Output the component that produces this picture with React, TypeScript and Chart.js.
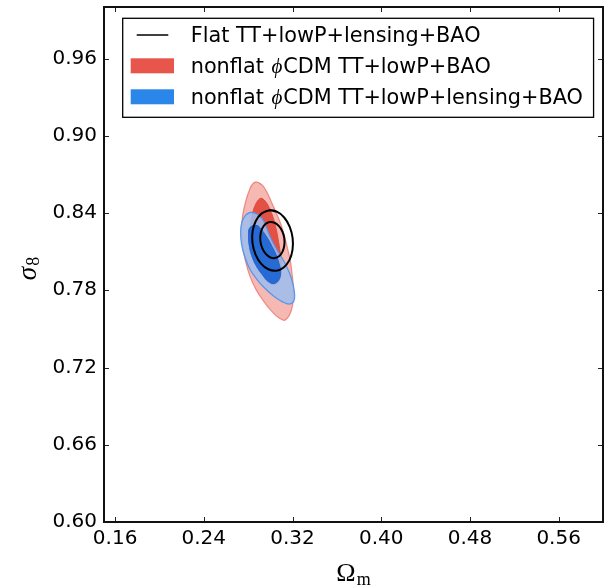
import React, { useEffect, useRef } from "react";
import { Chart, registerables } from "chart.js";

Chart.register(...registerables);

// ---- axes ----
const X_MIN = 0.15;
const X_MAX = 0.6;
const Y_MIN = 0.6;
const Y_MAX = 1.0;
const X_TICKS = [0.16, 0.24, 0.32, 0.4, 0.48, 0.56];
const Y_TICKS = [0.6, 0.66, 0.72, 0.78, 0.84, 0.9, 0.96];

// ---- legend ----
const LEGEND_LABELS = [
  "Flat TT+lowP+lensing+BAO",
  "nonflat \u03D5CDM TT+lowP+BAO",
  "nonflat \u03D5CDM TT+lowP+lensing+BAO",
];

// ---- contour vertices [Omega_m, sigma_8] ----
const RED_OUTER: [number, number][] = [
  [0.2876, 0.8641], [0.2926, 0.8618], [0.2971, 0.8559], [0.3016, 0.8474], [0.3056, 0.8396],
  [0.3093, 0.8318], [0.3124, 0.8233], [0.3151, 0.814], [0.3178, 0.8039], [0.3196, 0.793],
  [0.3208, 0.7813], [0.3205, 0.7712], [0.3183, 0.7627], [0.3133, 0.7568], [0.3079, 0.7584],
  [0.3007, 0.7642], [0.2935, 0.772], [0.2871, 0.7805], [0.2817, 0.7906], [0.2777, 0.8023],
  [0.275, 0.814], [0.2741, 0.8264], [0.275, 0.838], [0.2777, 0.8489], [0.2813, 0.8583],
  [0.2844, 0.8629],
];
const RED_INNER: [number, number][] = [
  [0.2912, 0.8513], [0.2953, 0.8493], [0.2989, 0.8443], [0.3025, 0.8365], [0.3052, 0.8279],
  [0.3074, 0.8178], [0.3093, 0.807], [0.3102, 0.7976], [0.3088, 0.7891], [0.3043, 0.7844],
  [0.298, 0.7868], [0.2917, 0.7945], [0.2867, 0.8046], [0.2835, 0.8155], [0.2822, 0.8264],
  [0.2835, 0.838], [0.2867, 0.8466],
];
const BLUE_OUTER: [number, number][] = [
  [0.2817, 0.8404], [0.2871, 0.8396], [0.2926, 0.8357], [0.2966, 0.8287], [0.2998, 0.8217],
  [0.3043, 0.814], [0.3097, 0.8062], [0.3142, 0.7992], [0.3178, 0.7922], [0.3205, 0.7844],
  [0.3219, 0.7767], [0.321, 0.7712], [0.3169, 0.7693], [0.3106, 0.7712], [0.3034, 0.7751],
  [0.2953, 0.7813], [0.288, 0.7883], [0.2817, 0.7961], [0.2772, 0.8054], [0.2741, 0.8155],
  [0.2732, 0.8256], [0.2745, 0.8334], [0.2777, 0.8384],
];
const BLUE_INNER: [number, number][] = [
  [0.2817, 0.8287], [0.288, 0.8303], [0.2926, 0.8264], [0.2971, 0.821], [0.3016, 0.814],
  [0.3052, 0.8077], [0.3079, 0.8007], [0.3093, 0.7945], [0.3079, 0.7883], [0.3034, 0.7852],
  [0.298, 0.7868], [0.2926, 0.7922], [0.2871, 0.7992], [0.2831, 0.807], [0.2808, 0.8155],
  [0.2804, 0.8233],
];
const FLAT_OUTER: [number, number][] = [
  [0.2987, 0.842], [0.3059, 0.841], [0.3125, 0.8365], [0.3175, 0.8293], [0.3201, 0.8205],
  [0.32, 0.8114], [0.3172, 0.8034], [0.312, 0.7977], [0.3054, 0.7952], [0.2982, 0.7963],
  [0.2916, 0.8007], [0.2866, 0.8079], [0.2839, 0.8167], [0.284, 0.8258], [0.2869, 0.8338],
  [0.292, 0.8395],
];
const FLAT_INNER: [number, number][] = [
  [0.2996, 0.833], [0.3038, 0.8324], [0.3078, 0.8298], [0.3109, 0.8256], [0.3126, 0.8203],
  [0.3126, 0.8148], [0.311, 0.81], [0.3081, 0.8066], [0.3041, 0.805], [0.2999, 0.8056],
  [0.2959, 0.8082], [0.2928, 0.8125], [0.2911, 0.8177], [0.2911, 0.8232], [0.2927, 0.828],
  [0.2956, 0.8315],
];

const RED = "rgb(232,85,75)";
const BLUE = "rgb(42,135,233)";
const SANS = '"DejaVu Sans", sans-serif';
const SERIF = '"Liberation Serif", "DejaVu Serif", serif';

function closedLoop(pts: [number, number][]) {
  const n = pts.length;
  const ring = [pts[n - 1], ...pts, pts[0], pts[1]];
  return ring.map(([x, y]) => ({ x, y }));
}

function contour(pts: [number, number][], fillColor: string | false, edge: string, width: number, order: number) {
  return {
    data: closedLoop(pts),
    borderColor: edge,
    borderWidth: width,
    backgroundColor: fillColor || "transparent",
    fill: fillColor ? "shape" : false,
    tension: 0.4,
    pointRadius: 0,
    pointHoverRadius: 0,
    order,
  };
}

const decorPlugin = {
  id: "decor",
  afterDraw(chart: any) {
    const ctx = chart.ctx as CanvasRenderingContext2D;
    const ca = chart.chartArea;
    const xs = chart.scales.x;
    const ys = chart.scales.y;
    ctx.save();

    // inward ticks on all four sides
    ctx.strokeStyle = "#222";
    ctx.lineWidth = 1;
    const TL = 5;
    ctx.beginPath();
    X_TICKS.forEach((v) => {
      const px = Math.round(xs.getPixelForValue(v)) + 0.5;
      ctx.moveTo(px, ca.bottom);
      ctx.lineTo(px, ca.bottom - TL);
      ctx.moveTo(px, ca.top);
      ctx.lineTo(px, ca.top + TL);
    });
    Y_TICKS.forEach((v) => {
      const py = Math.round(ys.getPixelForValue(v)) + 0.5;
      ctx.moveTo(ca.left, py);
      ctx.lineTo(ca.left + TL, py);
      ctx.moveTo(ca.right, py);
      ctx.lineTo(ca.right - TL, py);
    });
    ctx.stroke();

    // frame
    ctx.strokeStyle = "#111";
    ctx.lineWidth = 2;
    ctx.strokeRect(ca.left, ca.top, ca.right - ca.left, ca.bottom - ca.top);

    // legend
    const bx = ca.left + 18.7;
    const by = ca.top + 11.3;
    const textX = bx + 68;
    const fontSans = "20.8px " + SANS;
    const fontPhi = "italic 21px " + SERIF;
    const measure = (label: string) => {
      const parts = label.split("\u03D5");
      let w = 0;
      parts.forEach((p, i) => {
        if (i > 0) {
          ctx.font = fontPhi;
          w += ctx.measureText("\u03D5").width + 2;
        }
        ctx.font = fontSans;
        w += ctx.measureText(p).width;
      });
      return w;
    };
    const drawLabel = (label: string, x: number, y: number) => {
      const parts = label.split("\u03D5");
      let cx = x;
      parts.forEach((p, i) => {
        if (i > 0) {
          ctx.font = fontPhi;
          ctx.fillText("\u03D5", cx + 1, y);
          cx += ctx.measureText("\u03D5").width + 2;
        }
        ctx.font = fontSans;
        ctx.fillText(p, cx, y);
        cx += ctx.measureText(p).width;
      });
    };
    const maxW = Math.max(...LEGEND_LABELS.map(measure));
    const bw = textX - bx + maxW + 10.6;
    const bh = 99;
    ctx.fillStyle = "#fff";
    ctx.fillRect(bx, by, bw, bh);
    ctx.strokeStyle = "#000";
    ctx.lineWidth = 1.3;
    ctx.strokeRect(bx, by, bw, bh);

    // handles
    ctx.strokeStyle = "#000";
    ctx.lineWidth = 1.6;
    ctx.beginPath();
    ctx.moveTo(bx + 14, by + 16.7);
    ctx.lineTo(bx + 45.6, by + 16.7);
    ctx.stroke();
    ctx.fillStyle = RED;
    ctx.fillRect(bx + 8, by + 40, 43.3, 15);
    ctx.fillStyle = BLUE;
    ctx.fillRect(bx + 8, by + 71, 43.3, 15);

    ctx.fillStyle = "#000";
    ctx.textBaseline = "alphabetic";
    ctx.textAlign = "left";
    const baselines = [24, 54.9, 85.7];
    LEGEND_LABELS.forEach((lab, i) => drawLabel(lab, textX, by + baselines[i]));

    // x axis title: Omega_m
    ctx.fillStyle = "#000";
    const omFont = "26px " + SERIF;
    const subFont = "18px " + SERIF;
    ctx.font = omFont;
    const wO = ctx.measureText("\u03A9").width;
    ctx.font = subFont;
    const wm = ctx.measureText("m").width;
    const cxm = (ca.left + ca.right) / 2;
    const sx = cxm - (wO + wm + 1) / 2;
    ctx.font = omFont;
    ctx.fillText("\u03A9", sx, 581);
    ctx.font = subFont;
    ctx.fillText("m", sx + wO + 1, 585);

    // y axis title: sigma_8
    ctx.save();
    ctx.translate(36, 268.5);
    ctx.rotate(-Math.PI / 2);
    const sgFont = "italic 27px " + SERIF;
    const eightFont = "18px " + SERIF;
    ctx.font = sgFont;
    const ws = ctx.measureText("\u03C3").width;
    ctx.font = eightFont;
    const w8 = ctx.measureText("8").width;
    const s0 = -(ws + w8 + 1) / 2;
    ctx.font = sgFont;
    ctx.fillText("\u03C3", s0, 0);
    ctx.font = eightFont;
    ctx.fillText("8", s0 + ws + 1, 3);
    ctx.restore();

    ctx.restore();
  },
};

export default function App() {
  const ref = useRef<HTMLCanvasElement | null>(null);

  useEffect(() => {
    if (!ref.current) return;
    const chart = new Chart(ref.current, {
      type: "line",
      data: {
        datasets: [
          contour(RED_OUTER, "rgba(232,85,75,0.42)", "rgba(232,85,75,0.6)", 1.2, 6),
          contour(RED_INNER, "rgba(226,76,62,0.95)", "rgba(226,76,62,0.95)", 1, 5),
          contour(BLUE_OUTER, "rgba(156,190,240,0.85)", "rgba(80,145,235,0.9)", 1.3, 4),
          contour(BLUE_INNER, "rgba(28,100,212,0.92)", "rgba(28,100,212,0.92)", 1, 3),
          contour(FLAT_OUTER, false, "#000", 2, 2),
          contour(FLAT_INNER, false, "#000", 2, 1),
        ] as any,
      },
      options: {
        responsive: false,
        animation: false,
        events: [],
        layout: { padding: { top: 7, right: 11, left: 0, bottom: 0 } },
        plugins: {
          legend: { display: false },
          tooltip: { enabled: false },
        },
        scales: {
          x: {
            type: "linear",
            min: X_MIN,
            max: X_MAX,
            grid: { display: false, drawTicks: false },
            border: { display: false },
            ticks: {
              autoSkip: false,
              maxRotation: 0,
              padding: 5,
              color: "#000",
              font: { family: SANS, size: 20 },
              callback: (v: any) => Number(v).toFixed(2),
            },
            afterBuildTicks: (s: any) => {
              s.ticks = X_TICKS.map((value) => ({ value }));
            },
            afterFit: (s: any) => {
              s.height = 64;
              s.paddingLeft = 0;
              s.paddingRight = 0;
            },
          },
          y: {
            type: "linear",
            min: Y_MIN,
            max: Y_MAX,
            grid: { display: false, drawTicks: false },
            border: { display: false },
            ticks: {
              autoSkip: false,
              padding: 7,
              color: "#000",
              font: { family: SANS, size: 20 },
              callback: (v: any) => Number(v).toFixed(2),
            },
            afterBuildTicks: (s: any) => {
              s.ticks = Y_TICKS.map((value) => ({ value }));
            },
            afterFit: (s: any) => {
              s.width = 104;
              s.paddingTop = 0;
              s.paddingBottom = 0;
            },
          },
        },
      },
      plugins: [decorPlugin],
    });
    return () => chart.destroy();
  }, []);

  return (
    <div style={{ position: "fixed", left: 0, top: 0, width: 614, height: 586, background: "#fff" }}>
      <canvas ref={ref} width={614} height={586} style={{ display: "block" }} />
    </div>
  );
}
